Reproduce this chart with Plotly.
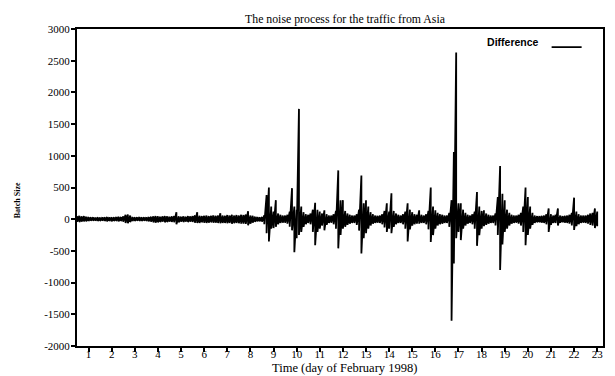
import plotly.graph_objects as go

# sampling grid: every 0.1 day from day 0.5 to day 23.0
t0 = 0.5
step = 0.1

# upper envelope of the noise (batch size difference), one row per day-span
upper = [
    50, 55, 45, 50, 40, 35, 30, 30, 25, 30,            # 0.5-1.4
    25, 30, 30, 35, 30, 30, 30, 35, 40, 35,            # 1.5-2.4
    45, 70, 75, 60, 35, 30, 30, 35, 30, 30,            # 2.5-3.4
    30, 35, 40, 45, 50, 45, 40, 45, 50, 45,            # 3.5-4.4
    40, 45, 50, 110, 45, 40, 45, 40, 50, 45,           # 4.5-5.4
    50, 60, 110, 55, 50, 55, 60, 50, 55, 60,           # 5.5-6.4
    55, 60, 95, 60, 55, 65, 60, 70, 60, 65,            # 6.5-7.4
    60, 70, 65, 75, 125, 60, 55, 40, 35, 30,           # 7.5-8.4
    35, 60, 380, 500, 200, 120, 300, 90, 70, 60,       # 8.5-9.4
    60, 70, 120, 490, 200, 150, 1740, 200, 110, 80,    # 9.5-10.4
    70, 90, 150, 260, 150, 120, 90, 140, 80, 60,       # 10.5-11.4
    60, 80, 130, 770, 300, 300, 130, 90, 70, 60,       # 11.5-12.4
    60, 80, 150, 690, 250, 300, 200, 110, 80, 60,      # 12.5-13.4
    55, 60, 80, 130, 250, 120, 410, 130, 90, 70,       # 13.5-14.4
    60, 80, 120, 250, 150, 110, 80, 70, 140, 70,       # 14.5-15.4
    60, 80, 130, 500, 200, 140, 100, 80, 70, 60,       # 15.5-16.4
    60, 100, 300, 1060, 2630, 250, 250, 150, 100, 70,  # 16.5-17.4
    60, 80, 120, 430, 200, 130, 140, 90, 70, 60,       # 17.5-18.4
    60, 90, 350, 840, 400, 300, 150, 100, 70, 60,      # 18.5-19.4
    60, 70, 100, 200, 500, 350, 200, 100, 60, 50,      # 19.5-20.4
    50, 55, 60, 80, 170, 80, 60, 70, 170, 60,          # 20.5-21.4
    50, 55, 60, 70, 100, 340, 120, 80, 60, 60,         # 21.5-22.4
    60, 70, 90, 100, 170, 120,                         # 22.5-23.0
]

# lower envelope of the noise
lower = [
    -40, -45, -40, -35, -35, -30, -25, -25, -25, -30,
    -30, -25, -30, -35, -30, -35, -30, -30, -35, -30,
    -40, -60, -65, -45, -30, -30, -25, -30, -30, -25,
    -30, -35, -40, -50, -55, -50, -45, -40, -50, -45,
    -40, -45, -50, -80, -50, -40, -45, -40, -45, -40,
    -45, -55, -60, -60, -50, -55, -60, -55, -50, -55,
    -55, -60, -65, -60, -60, -65, -60, -70, -65, -60,
    -65, -70, -70, -75, -95, -70, -55, -40, -35, -35,
    -40, -80, -220, -350, -150, -140, -120, -80, -60, -55,
    -55, -70, -120, -175, -520, -300, -250, -200, -120, -80,
    -60, -80, -200, -410, -200, -150, -100, -175, -90, -60,
    -55, -80, -150, -460, -250, -150, -120, -90, -70, -60,
    -60, -90, -180, -540, -300, -220, -150, -100, -70, -60,
    -55, -60, -80, -130, -200, -150, -220, -120, -80, -60,
    -60, -80, -150, -350, -160, -100, -80, -70, -70, -60,
    -60, -80, -160, -360, -250, -150, -100, -80, -70, -60,
    -60, -120, -1600, -700, -300, -200, -330, -150, -100, -70,
    -60, -80, -150, -420, -250, -150, -110, -90, -70, -60,
    -60, -100, -250, -800, -400, -200, -150, -100, -70, -60,
    -55, -70, -100, -200, -410, -250, -150, -90, -60, -50,
    -50, -55, -60, -80, -200, -90, -60, -60, -100, -55,
    -50, -55, -60, -70, -100, -170, -110, -80, -60, -55,
    -60, -70, -90, -100, -140, -110,
]

x_ticks = list(range(1, 24))
y_ticks = [3000, 2500, 2000, 1500, 1000, 500, 0, -500, -1000, -1500, -2000]
y_tick_text = ["3000", "2500", "2000", "1500", "1000", "500", "0", "-500", "-1000", "-1500", "-2000"]

title_text = "The noise process for the traffic from Asia"
x_title = "Time (day of February 1998)"
y_title = "Batch Size"
series_name = "Difference"

# build a dense trace: at each sample go from the upper to the lower envelope
xs, ys = [], []
for i, (u, l) in enumerate(zip(upper, lower)):
    t = round(t0 + i * step, 2)
    xs += [t, t]
    ys += [u, l]

FONT = "Liberation Serif"
SANS = "Liberation Sans"

fig = go.Figure()
fig.add_trace(go.Scatter(x=xs, y=ys, mode="lines", name=" ",
                         line=dict(color="black", width=1.8), showlegend=True))

fig.update_layout(
    width=615, height=376,
    margin=dict(l=77, r=10, t=29, b=30),
    paper_bgcolor="white", plot_bgcolor="white",
    font=dict(family=FONT, size=11, color="black"),
    title=dict(text=title_text, x=0.561, xref="container", xanchor="center",
               y=1 - 19 / 376, yref="container", yanchor="middle",
               font=dict(family=FONT, size=11.8, color="black")),
    legend=dict(x=0.985, xanchor="right", y=0.943, yanchor="middle",
                bgcolor="rgba(0,0,0,0)",
                title=dict(text="<b>" + series_name + "</b>", side="left",
                           font=dict(family=SANS, size=10.5, color="black")),
                font=dict(family=SANS, size=10.5), itemwidth=30),
    xaxis=dict(range=[0.5, 23.25], tickvals=x_ticks, ticks="outside", ticklen=4, tickwidth=1.5,
               tickcolor="black", showline=True, linecolor="black", linewidth=2, mirror=True,
               showgrid=False, zeroline=False, ticklabelstandoff=-7,
               tickfont=dict(family=FONT, size=11)),
    yaxis=dict(range=[-2000, 3000], tickvals=y_ticks, ticktext=y_tick_text, ticks="outside",
               ticklen=4, tickwidth=1.5, tickcolor="black", showline=True, linecolor="black",
               linewidth=2, mirror=True, showgrid=False, zeroline=False, ticklabelstandoff=-1,
               tickfont=dict(family=FONT, size=11)),
    annotations=[
        dict(text=x_title, xref="paper", yref="paper", x=0.508, y=(346 - 368) / 317,
             xanchor="center", yanchor="middle", showarrow=False,
             font=dict(family=FONT, size=12.5)),
        dict(text="<b>" + y_title + "</b>", xref="paper", yref="paper", x=-0.1117, y=0.4606,
             xanchor="center", yanchor="middle", showarrow=False, textangle=-90,
             font=dict(family=FONT, size=8)),
    ],
)

fig.write_html("out.html")
